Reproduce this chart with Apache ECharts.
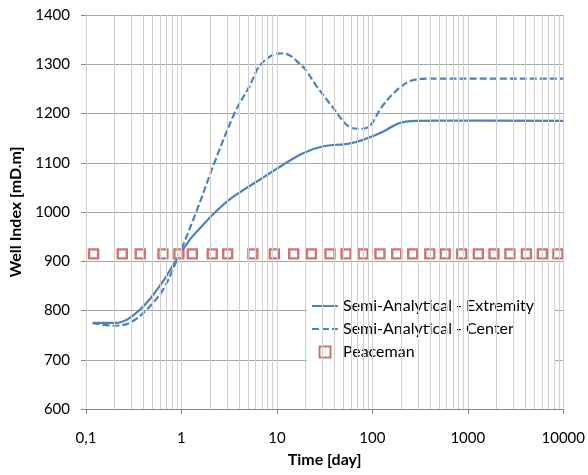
<!DOCTYPE html>
<html><head><meta charset="utf-8">
<script src="https://cdn.jsdelivr.net/npm/echarts@6/dist/echarts.min.js"></script>
<style>html,body{margin:0;padding:0;background:#fff}#c{width:588px;height:475px}</style>
</head><body><div id="c"></div>
<script>
// Data
const extremityT = [0.1175, 0.209, 0.288, 0.430, 0.640, 0.884, 1.216, 1.546, 2.27, 3.44, 6.53, 11.4, 18.5, 29.9, 56.8, 78.2, 126, 189, 282, 493, 10000];
const extremityV = [775, 775, 785, 815, 859, 903, 943, 966, 1000, 1030, 1065, 1095, 1119, 1133, 1139, 1146, 1162, 1180, 1185, 1185.5, 1185];
const centerT = [0.1175, 0.193, 0.288, 0.430, 0.640, 0.884, 1.428, 2.216, 3.584, 5.14, 6.81, 10.6, 13.4, 17.1, 20.1, 25.5, 38.0, 56.8, 72.2, 91.8, 126, 189, 259, 420, 10000];
const centerV = [775, 769, 775, 801, 842, 900, 1000, 1100, 1200, 1255, 1300, 1322, 1319, 1302, 1288, 1258, 1214, 1173, 1169, 1173, 1214, 1251, 1267, 1271, 1271];
const peacemanT = [0.12, 0.24, 0.37, 0.64, 0.94, 1.3, 2.1, 3.05, 5.6, 9.4, 15, 23, 36, 53, 80, 120, 180, 265, 400, 580, 865, 1290, 1880, 2760, 4110, 6040, 8800];
const peacemanV = 915;
const xTickLabels = {0.1: '0,1', 1: '1', 10: '10', 100: '100', 1000: '1000', 10000: '10000'};
const seriesNames = ['Semi-Analytical - Extremity', 'Semi-Analytical - Center', 'Peaceman'];

// vertical gridlines (1..9 per decade)
const gridX = [];
for (let d = -1; d <= 3; d++) {
  for (let m = 1; m <= 9; m++) gridX.push(+(m * Math.pow(10, d)).toPrecision(3));
}
gridX.push(10000);

const zip = (a, b) => a.map((t, i) => [t, Array.isArray(b) ? b[i] : b]);
const FONT = 'Lato';
const blue = '#4F81BD', red = '#C0504D';

const chart = echarts.init(document.getElementById('c'));
chart.setOption({
  animation: false,
  textStyle: {fontFamily: FONT},
  grid: {left: 86, right: 23, top: 15, bottom: 66, containLabel: false},
  xAxis: {
    type: 'log', logBase: 10, min: 0.1, max: 10000,
    name: 'Time [day]', nameLocation: 'middle', nameGap: 43,
    nameTextStyle: {fontFamily: FONT, fontWeight: 'bold', fontSize: 16, color: '#000'},
    axisLine: {show: true, lineStyle: {color: '#868686', width: 1}},
    axisTick: {show: true, length: 5, lineStyle: {color: '#868686'}},
    axisLabel: {fontFamily: FONT, fontSize: 15, color: '#000', margin: 22,
      formatter: v => xTickLabels[+v.toPrecision(3)] !== undefined ? xTickLabels[+v.toPrecision(3)] : ''},
    splitLine: {show: false}
  },
  yAxis: {
    type: 'value', min: 600, max: 1400, interval: 100,
    name: 'Well Index [mD.m]', nameLocation: 'middle', nameGap: 57, nameRotate: 90,
    nameTextStyle: {fontFamily: FONT, fontWeight: 'bold', fontSize: 16, color: '#000'},
    axisLine: {show: true, lineStyle: {color: '#868686', width: 1}},
    axisTick: {show: true, length: 5, inside: false, lineStyle: {color: '#868686'}},
    axisLabel: {fontFamily: FONT, fontSize: 15, color: '#000', margin: 16, formatter: v => String(v)},
    splitLine: {show: true, lineStyle: {color: '#A6A6A6', width: 1}}
  },
  legend: {
    show: true, orient: 'vertical', left: 307, top: 294,
    padding: [4, 20, 6, 4],
    backgroundColor: '#fff', itemGap: 7, itemWidth: 26, itemHeight: 11,
    textStyle: {fontFamily: FONT, fontSize: 16, color: '#000'},
    data: [
      {name: seriesNames[0], itemStyle: {opacity: 0}},
      {name: seriesNames[1], itemStyle: {opacity: 0}},
      {name: seriesNames[2], icon: 'path://M0,0H10V10H0Z'}
    ]
  },
  series: [
    {
      type: 'line', name: '_grid', data: [], silent: true, z: 1,
      markLine: {
        silent: true, symbol: ['none', 'none'], animation: false,
        label: {show: false},
        lineStyle: {color: '#D0D0D0', width: 1, type: 'solid'},
        emphasis: {disabled: true},
        data: gridX.map(v => ({xAxis: v}))
      }
    },
    {
      type: 'line', name: seriesNames[0], data: zip(extremityT, extremityV),
      showSymbol: false, symbol: 'none', smooth: 0.35, z: 3,
      lineStyle: {color: blue, width: 2.2}, itemStyle: {color: blue}
    },
    {
      type: 'line', name: seriesNames[1], data: zip(centerT, centerV),
      showSymbol: false, symbol: 'none', smooth: 0.35, z: 3,
      lineStyle: {color: blue, width: 2.2, type: [7, 3]}, itemStyle: {color: blue}
    },
    {
      type: 'scatter', name: seriesNames[2], data: zip(peacemanT, peacemanV),
      symbol: 'rect', symbolSize: 9, z: 4,
      itemStyle: {color: '#fff', borderColor: red, borderWidth: 2.4}
    }
  ]
});
</script></body></html>
